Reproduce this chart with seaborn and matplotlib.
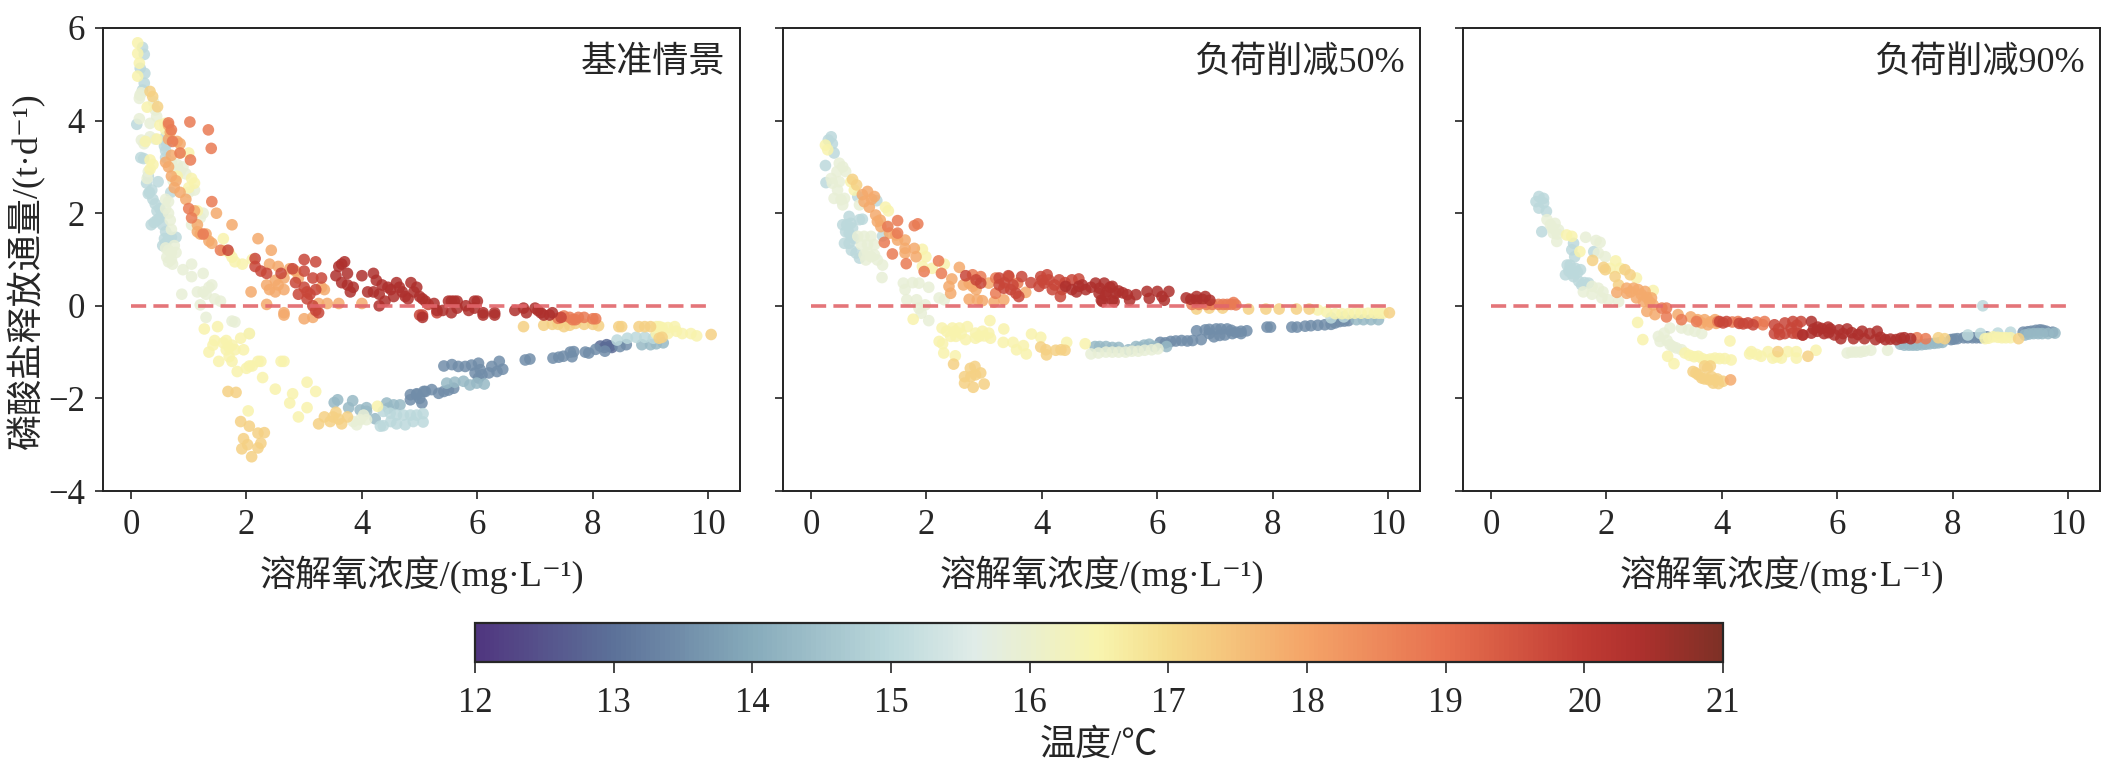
import pandas as pd
import matplotlib
matplotlib.use('Agg')
import matplotlib.pyplot as plt
from matplotlib.colors import LinearSegmentedColormap, Normalize
from matplotlib.cm import ScalarMappable
import seaborn as sns

sns.set_style('ticks')
fonts = ['Liberation Serif', 'Noto Sans CJK SC', 'DejaVu Sans']
plt.rcParams['font.family'] = fonts

panel_names = ['基准情景', '负荷削减50%', '负荷削减90%']
x_label = '溶解氧浓度/(mg·L⁻¹)'
y_label = '磷酸盐释放通量/(t·d⁻¹)'
cbar_label = '温度/℃'
x_ticks = [0, 2, 4, 6, 8, 10]
y_ticks = [-4, -2, 0, 2, 4, 6]
cbar_ticks = [12, 13, 14, 15, 16, 17, 18, 19, 20, 21]

temp_stops = [12, 13, 14, 15, 15.6, 16.5, 17, 18, 19, 20, 20.4, 21]
temp_colors = ['#50367f', '#5c7299', '#87abbb', '#bcd9dc', '#e0ece8', '#f8f4ae',
               '#f5dc8b', '#f4a468', '#e7704f', '#c03b33', '#ae302d', '#7e3026']

# panel 1, one list per temperature (dissolved oxygen, flux)
p1_130 = [(8.13, -.87), (8.24, -.84), (8.2, -.9), (8.3, -.87), (8.33, -.9)]
p1_135 = [(5.42, -1.3), (5.56, -1.27), (5.67, -1.31), (5.79, -1.31), (5.9, -1.28), (6.02, -1.24), (6.05, -1.38),
          (6.02, -1.56), (6.08, -1.49), (5.96, -1.45), (6.2, -1.45), (6.25, -1.31), (6.38, -1.2), (6.34, -1.42),
          (6.44, -1.37), (6.83, -1.17), (6.91, -1.15), (7.31, -1.13), (7.41, -1.11), (7.49, -1.09), (7.61, -1.0),
          (7.67, -.99), (7.64, -1.1), (7.87, -1.0), (7.93, -1.02), (8.05, -.94), (8.21, -.98), (8.47, -.88),
          (8.58, -.84), (4.84, -1.92), (4.95, -1.92), (4.84, -2.03), (5.04, -2.1), (5.07, -1.85), (5.21, -1.81),
          (5.33, -1.89), (5.42, -1.85), (5.5, -1.82), (5.59, -1.78), (4.95, -1.9), (5.1, -1.85), (5.0, -2.0)]
p1_143 = [(5.47, -1.67), (5.61, -1.65), (5.76, -1.63), (5.87, -1.71), (5.99, -1.67), (6.12, -1.69), (8.85, -.84),
          (9.0, -.84), (9.1, -.82), (9.22, -.8), (3.52, -2.09), (3.58, -2.03), (3.77, -2.2), (3.84, -2.05),
          (3.97, -2.25), (4.08, -2.2), (4.08, -2.28), (4.23, -2.44), (4.43, -2.1), (4.55, -2.14), (4.66, -2.14),
          (4.46, -2.21)]
p1_150 = [(.2, 5.58), (.23, 5.43), (.16, 5.13), (.24, 5.02), (.23, 4.81), (.2, 4.66), (.1, 3.92), (.17, 3.2), (.22, 3.18),
          (.6, 3.65), (.62, 3.5), (.6, 3.35), (.6, 3.2), (.58, 3.45), (.47, 2.68), (.32, 2.45), (.36, 2.5), (.3, 2.42),
          (.38, 2.3), (.42, 2.2), (.45, 2.05), (.5, 2.1), (.55, 2.0), (.35, 1.75), (.4, 1.8), (.45, 1.85), (.5, 1.9),
          (.55, 1.75), (.6, 1.6), (.58, 1.45), (.65, 1.45), (.7, 1.48), (.78, 1.48), (.55, 1.3), (.6, 1.35), (.69, 2.45),
          (.27, 2.65), (.3, 2.8), (8.42, -.74), (8.6, -.7), (8.75, -.68), (8.9, -.68), (9.05, -.7),
          (4.37, -2.28), (4.49, -2.32), (4.6, -2.36), (4.72, -2.36), (4.84, -2.36), (4.95, -2.36), (5.06, -2.33),
          (5.06, -2.51), (4.89, -2.5), (4.75, -2.57), (4.6, -2.55), (4.5, -2.5), (4.37, -2.59), (4.32, -2.6)]
p1_159 = [(.156, 4.55), (.145, 4.48), (.18, 4.6), (.39, 4.41), (.42, 4.23), (.445, 4.09), (.145, 4.04), (.33, 3.94),
          (.18, 3.58), (.225, 3.5), (.33, 3.65), (.42, 3.6), (.7, 3.1), (.8, 3.05), (.85, 2.9), (.9, 3.0), (.75, 2.95),
          (.95, 2.85), (.73, 2.7), (.3, 2.9), (.28, 2.75), (.6, 2.3), (.65, 2.25), (.6, 2.1), (.65, 2.0), (.68, 1.85),
          (.7, 1.65), (.6, 1.25), (.65, 1.2), (.7, 1.15), (.75, 1.3), (.62, 1.05), (.7, 1.0), (.78, 1.15), (.65, .95),
          (.72, .9), (.9, .78), (1.05, .9), (1.05, .63), (1.25, .7), (.88, .25), (1.15, .3), (1.25, .3), (1.3, .25),
          (1.4, .45), (1.35, .4), (1.45, .15), (1.55, .1), (1.2, .02), (1.05, 1.75), (1.25, 2.0), (1.2, 1.9), (1.1, 2.5),
          (1.0, 2.45), (1.3, -.25), (1.75, -.33), (1.8, -.35), (2.05, -.6), (3.85, -2.5), (3.97, -2.46), (4.08, -2.46),
          (3.91, -2.57), (4.03, -2.36)]
p1_165 = [(.116, 5.68), (.116, 5.45), (.145, 5.24), (.116, 4.96), (.28, 4.29), (.5, 3.9), (.59, 3.94), (.6, 3.8),
          (.25, 3.55), (.45, 3.6), (.33, 3.15), (.38, 3.05), (.33, 2.95), (.8, 2.8), (.85, 3.3), (1.0, 3.3), (1.05, 2.75),
          (1.1, 2.65), (1.0, 2.55), (1.15, 2.05), (1.6, 1.45), (1.6, 1.2), (1.7, 1.15), (1.75, 1.05), (1.8, .95), (1.93, .9),
          (2.1, 1.0), (1.27, -.5), (1.5, -.45), (1.45, -.75), (1.42, -.85), (1.35, -1.0), (1.6, -.8), (1.65, -.75),
          (1.7, -.9), (1.75, -.85), (1.8, -.95), (1.65, -.95), (1.7, -1.1), (1.9, -.7), (1.95, -.95), (2.05, -.6),
          (1.52, -1.2), (1.75, -1.2), (1.84, -1.42), (2.1, -1.3), (2.05, -1.3), (2.0, -1.35), (2.2, -1.2), (2.25, -1.2),
          (2.6, -1.2), (2.65, -1.2), (2.28, -1.55), (2.5, -1.8), (2.8, -1.9), (3.05, -1.65), (3.2, -1.85), (2.75, -2.1),
          (3.05, -2.2), (2.9, -2.4), (2.03, -2.27), (4.27, -2.17), (9.1, -.45), (9.15, -.45), (9.2, -.47), (9.3, -.47),
          (9.42, -.45), (9.45, -.55), (9.55, -.6), (9.7, -.6), (9.8, -.65), (9.1, -.6), (9.3, -.6)]
p1_172 = [(.33, 4.63), (.375, 4.52), (.46, 4.3), (3.25, -2.55), (3.35, -2.4), (3.5, -2.4), (3.55, -2.3), (3.6, -2.45),
          (3.65, -2.55), (3.45, -2.5), (3.75, -2.4), (1.68, -1.85), (1.82, -1.87), (1.9, -2.5), (2.05, -2.6), (1.95, -2.87),
          (2.02, -3.0), (1.92, -3.09), (2.09, -3.26), (2.2, -3.07), (2.25, -2.97), (2.2, -2.75), (2.31, -2.74),
          (6.8, -.45), (7.15, -.42), (7.3, -.4), (7.4, -.4), (7.5, -.45), (7.6, -.42), (7.7, -.38), (7.85, -.4), (8.0, -.4),
          (8.1, -.43), (8.45, -.45), (8.5, -.45), (8.8, -.45), (8.9, -.45), (9.0, -.45), (10.05, -.62), (9.15, -.7), (9.2, -.68)]
p1_179 = [(.65, 3.9), (.68, 3.75), (.65, 3.6), (.8, 3.55), (.85, 3.5), (.7, 3.25), (.6, 3.1), (.65, 3.0), (.7, 2.8), (.78, 2.7),
          (.75, 2.55), (.85, 2.45), (.95, 2.3), (1.1, 2.05), (1.15, 1.75), (1.48, 2.0), (1.75, 1.75), (1.15, 1.6), (1.2, 1.55),
          (1.3, 1.55), (1.35, 1.4), (1.4, 1.35), (2.2, 1.45), (2.43, 1.2), (2.4, .9), (2.55, .85), (2.35, .45), (2.4, .35),
          (2.5, .3), (2.65, .35), (2.5, .55), (2.75, .8), (2.85, .75), (2.9, .6), (3.3, .4), (3.35, .35), (2.65, -.15), (2.65, -.2),
          (3.0, -.28), (3.15, -.25), (2.35, .03), (3.4, .05), (3.6, .05), (4.0, .05), (2.08, .3), (2.65, .6), (2.55, .45), (3.25, .05)]
p1_188 = [(1.02, 3.97), (.85, 3.3), (.65, 3.95), (.7, 3.8), (.72, 3.55), (1.03, 3.15), (1.34, 3.8), (1.39, 3.4), (1.0, 2.1), (1.05, 1.9),
          (1.4, 2.25), (1.25, 1.55), (1.55, 1.2), (7.5, -.22), (7.7, -.3), (7.85, -.25), (8.0, -.28), (7.4, -.27), (7.6, -.25),
          (7.75, -.25), (8.05, -.28), (7.65, -.3)]
p1_198 = [(1.68, 1.2), (2.15, 1.02), (2.15, .85), (2.25, .75), (2.35, .7), (2.6, .7), (2.8, .8), (3.0, .75), (3.15, .6), (2.85, .5),
          (3.0, .4), (3.2, .35), (3.1, .25), (3.05, .15), (3.15, .0), (3.2, -.1), (3.25, -.15), (2.9, .25), (3.3, .6), (3.0, 1.0),
          (3.2, .95), (3.05, .3), (5.0, -.2), (5.05, -.2), (5.3, -.15), (5.15, .03), (7.45, -.25)]
p1_204 = [(3.65, .9), (3.7, .95), (3.6, .85), (3.75, .7), (4.0, .65), (4.2, .7), (4.25, .55), (3.55, .65), (3.65, .5), (3.75, .45),
          (3.85, .4), (3.8, .3), (4.1, .3), (4.2, .3), (4.3, .25), (4.35, .45), (4.45, .4), (4.5, .35), (4.55, .2), (4.6, .5),
          (4.65, .4), (4.7, .3), (4.75, .2), (4.8, .15), (4.85, .5), (4.9, .3), (4.95, .4), (5.0, .2), (5.05, .15), (5.1, .1),
          (5.25, .05), (4.4, .1), (4.3, .0), (5.5, .1), (5.55, .1), (5.65, .1), (5.6, .1), (5.8, .0), (5.95, .1), (6.0, .1),
          (6.1, -.15), (6.1, -.2), (6.3, -.15), (6.3, -.2), (6.65, -.1), (6.8, -.05), (6.85, -.15), (7.0, -.05), (7.05, -.1),
          (7.1, -.15), (7.15, -.2), (7.25, -.2), (7.3, -.15), (5.05, -.25), (5.3, -.1), (5.4, -.1), (5.55, -.15), (5.65, -.05),
          (5.85, -.1), (5.95, -.05)]

# panel 2
p2_135 = [(6.05, -.79), (6.23, -.77), (6.42, -.75), (6.61, -.75), (6.76, -.73), (6.68, -.54), (6.83, -.52), (7.02, -.5), (7.21, -.5),
          (7.36, -.57), (7.55, -.54), (6.98, -.67), (7.17, -.63), (7.96, -.46), (8.33, -.46), (8.56, -.44), (8.78, -.42), (9.01, -.4),
          (9.16, -.34), (9.31, -.32), (6.9, -.6), (7.3, -.6), (7.45, -.6), (6.14, -.8), (6.32, -.76), (6.52, -.76), (6.9, -.51), (7.1, -.5),
          (7.28, -.53), (7.45, -.55), (7.08, -.64), (7.9, -.46), (8.42, -.46), (8.66, -.43), (8.9, -.41), (9.08, -.37), (9.24, -.33)]
p2_143 = [(4.92, -.88), (5.11, -.88), (5.33, -.9), (5.63, -.88), (5.86, -.83), (6.16, -.88), (9.57, -.3), (9.83, -.3), (5.7, -.9), (5.5, -.95),
          (5.0, -.88), (5.22, -.9), (5.77, -.85), (5.95, -.88), (9.7, -.3), (9.45, -.3)]
p2_150 = [(.35, 3.65), (.3, 3.58), (.37, 3.5), (.4, 3.3), (.25, 3.03), (.26, 2.66), (.55, 1.75), (.66, 1.93), (.69, 1.78), (.72, 1.68),
          (.6, 1.6), (.66, 1.57), (.58, 1.35), (.66, 1.35), (.84, 1.86), (.89, 1.87), (.81, 2.36), (.78, 1.14), (.84, 1.03), (1.24, 1.51),
          (1.14, 2.27), (9.01, -.26), (9.23, -.24), (.75, 1.45), (.7, 1.2), (.62, 1.75), (.7, 1.5)]
p2_159 = [(.49, 3.08), (.55, 3.0), (.6, 2.9), (.35, 2.75), (.37, 2.65), (.49, 2.68), (.4, 2.32), (.52, 2.29), (.58, 2.32), (.55, 2.18),
          (.84, 2.18), (.81, 1.5), (.92, 1.5), (1.04, 1.5), (.87, 1.32), (.98, 1.32), (1.1, 1.32), (.92, 1.1), (1.04, 1.06), (1.15, .99),
          (1.24, .88), (.95, .99), (1.23, .61), (1.6, .49), (1.76, .5), (1.87, .49), (2.04, .4), (1.63, .35), (1.66, .13), (1.83, .13),
          (1.98, .02), (2.22, .17), (2.31, .13), (1.87, -.05), (1.91, -.16), (2.04, -.32), (4.85, -1.04), (5.11, -1.0), (5.33, -1.0),
          (5.56, -.98), (5.78, -.96), (6.01, -.93), (1.33, 1.72), (.45, 2.9), (.46, 2.5), (.98, 1.15), (1.1, 1.1), (4.98, -1.02), (5.22, -1.0),
          (5.45, -1.0), (5.67, -.98), (5.9, -.95)]
p2_165 = [(.25, 3.47), (.29, 3.37), (.69, 2.68), (.75, 2.5), (1.29, 2.13), (1.34, 2.05), (1.93, 1.22), (1.99, 1.06), (1.93, .85), (2.1, .81),
          (2.31, .9), (1.77, -.29), (2.27, -.48), (2.45, -.48), (2.57, -.48), (2.71, -.45), (2.42, -.66), (2.51, -.66), (2.68, -.73),
          (2.85, -.59), (2.97, -.55), (3.08, -.59), (3.11, -.7), (2.91, -.66), (3.1, -.32), (3.34, -.5), (3.33, -.79), (3.5, -.79),
          (3.56, -.95), (3.68, -.86), (3.73, -1.04), (3.82, -.61), (3.98, -.68), (4.43, -.79), (4.75, -.82), (2.22, -.77), (2.28, -.82),
          (2.3, -1.02), (2.5, -1.08), (2.35, -.55), (2.6, -.6), (8.78, -.09), (9.08, -.17), (9.31, -.17), (9.53, -.16), (9.76, -.16),
          (9.91, -.16), (8.93, -.13), (9.2, -.17), (9.42, -.16), (9.65, -.16), (9.84, -.16), (2.5, -.55), (2.85, -.7), (3.0, -.65)]
p2_172 = [(.72, 2.73), (.79, 2.61), (2.47, -1.26), (3.98, -.89), (4.07, -.95), (4.08, -1.06), (4.24, -.96), (4.33, -.95), (4.4, -.96),
          (2.76, -1.35), (2.84, -1.31), (2.94, -1.45), (2.66, -1.53), (2.77, -1.53), (2.85, -1.49), (2.66, -1.67), (2.81, -1.76),
          (3.0, -1.69), (10.02, -.15), (8.11, -.07), (8.63, -.07), (6.68, -.07), (6.9, -.05), (7.13, -.05), (7.58, -.07), (7.88, -.07), (8.41, -.07)]
p2_179 = [(.98, 2.47), (.89, 2.4), (1.1, 2.36), (.92, 2.25), (1.01, 2.13), (1.12, 1.96), (1.15, 1.82), (1.21, 1.71), (1.36, 1.57), (1.47, 1.53),
          (1.5, 1.42), (1.63, 1.42), (1.63, 1.24), (1.63, 1.14), (1.79, 1.24), (1.82, 1.06), (2.57, .83), (2.44, .58), (2.39, .42), (2.42, .27),
          (2.64, .45), (2.74, .49), (2.86, .35), (2.74, .14), (2.88, .13), (2.97, .11), (3.17, .08), (3.34, .13), (3.08, .49), (3.72, .29),
          (2.8, .42), (1.05, 2.3), (1.2, 1.85)]
p2_188 = [(1.5, 1.84), (1.79, 1.73), (1.85, 1.77), (1.27, 1.37), (1.41, 1.12), (1.65, .91), (1.96, .74), (2.21, .97), (2.26, .7), (1.33, 1.71),
          (1.5, 1.57), (2.8, .67), (2.94, .63), (3.2, .6), (3.58, .49), (3.2, .27), (3.43, .63), (6.6, .03), (6.85, .03), (7.06, .03), (7.21, .03),
          (7.36, .02), (7.32, .07), (6.72, .03), (6.95, .03), (7.14, .03), (7.28, .03)]
p2_198 = [(2.68, .65), (2.86, .56), (2.94, .49), (3.26, .45), (3.34, .38), (3.46, .35), (3.55, .27), (3.6, .2), (3.42, .65), (3.65, .63), (3.26, .6),
          (3.81, .5), (3.98, .63), (4.09, .67), (4.04, .49), (4.12, .56), (4.3, .56), (3.95, .42), (4.18, .35), (4.32, .2), (4.35, .35), (4.52, .56), (4.64, .58),
          (3.35, .5), (3.5, .45), (4.0, .55), (4.22, .45), (4.4, .5)]
p2_204 = [(4.41, .42), (4.52, .35), (4.64, .42), (4.76, .35), (4.7, .45), (4.93, .49), (5.08, .49), (5.22, .42), (4.99, .27), (5.13, .31), (5.28, .27),
          (5.05, .09), (5.25, .09), (5.18, .4), (5.33, .32), (5.48, .24), (5.03, .12), (5.22, .12), (5.52, .12), (5.82, .31), (6.0, .31), (6.2, .31),
          (5.86, .16), (6.12, .12), (6.5, .17), (6.68, .2), (6.83, .2), (6.91, .12), (6.68, .12), (5.63, .24), (4.85, .4), (5.0, .38), (5.1, .22),
          (5.4, .28), (4.6, .3), (6.08, .2), (6.58, .14), (6.78, .14)]

# panel 3
p3_135 = [(7.97, -.73), (8.08, -.71), (8.19, -.69), (8.34, -.69), (8.48, -.69), (8.59, -.67), (9.22, -.57), (9.36, -.55), (9.51, -.52), (9.62, -.55), (9.73, -.57),
          (8.02, -.72), (8.26, -.69), (8.41, -.69), (8.54, -.68), (9.3, -.56), (9.44, -.53), (9.56, -.53)]
p3_143 = [(7.09, -.83), (7.24, -.85), (7.38, -.85), (7.53, -.83), (7.68, -.81), (7.82, -.79), (9.25, -.63), (9.4, -.6), (9.55, -.6), (9.77, -.59),
          (7.16, -.85), (7.31, -.85), (7.46, -.84), (7.6, -.82), (7.75, -.8), (9.32, -.61), (9.48, -.6), (9.65, -.6)]
p3_150 = [(.83, 2.36), (.91, 2.32), (.78, 2.25), (.91, 2.22), (.83, 2.11), (.96, 2.04), (.88, 1.6), (1.32, .88), (1.37, .88), (1.46, .81), (1.29, .67),
          (1.43, .63), (1.52, .53), (1.57, .45), (1.69, .49), (1.43, 1.35), (1.4, 1.21), (1.45, 1.06), (1.78, 1.17), (1.55, .78), (8.26, -.63), (8.48, -.6),
          (8.78, -.59), (9.0, -.57), (8.52, .0), (1.35, .75), (1.4, .7), (1.5, .72), (1.62, .5)]
p3_159 = [(.97, 1.86), (1.11, 1.78), (1.06, 1.68), (1.08, 1.57), (1.14, 1.39), (1.17, 1.64), (1.64, 1.48), (1.82, 1.41), (1.89, 1.37), (1.86, 1.14), (1.98, 1.06),
          (1.75, .42), (1.86, .38), (1.92, .17), (2.03, .13), (2.21, .09), (2.9, -.66), (3.0, -.59), (3.1, -.48), (2.93, -.77), (3.1, -.84), (3.21, -.91), (3.3, -.95),
          (3.3, -.48), (3.42, -.52), (3.53, -.55), (3.65, -.6), (6.17, -1.02), (6.32, -1.0), (6.47, -.98), (6.58, -.96), (6.87, -.96), (1.6, .3), (1.75, .25),
          (1.03, 1.75), (1.15, 1.55), (1.94, .3), (3.05, -.75), (3.15, -.88), (6.25, -1.0), (6.4, -1.0)]
p3_165 = [(1.31, 1.53), (1.4, 1.5), (1.54, 1.17), (2.16, .97), (2.06, .81), (2.24, .81), (2.52, .6), (2.81, .33), (2.54, -.36), (2.63, -.73), (3.06, -1.09), (3.17, -1.25),
          (3.44, -1.07), (3.59, -1.09), (3.73, -1.17), (3.88, -1.13), (4.05, -1.14), (4.16, -1.17), (4.51, -.99), (4.48, -1.04), (4.68, -1.09), (4.8, -.99), (4.88, -1.13),
          (5.03, -1.13), (5.14, -.99), (5.29, -.99), (5.29, -1.13), (5.63, -.96), (4.14, -.76), (8.56, -.71), (8.7, -.67), (8.85, -.69), (9.0, -.69), (3.36, -1.02),
          (3.52, -1.1), (3.66, -1.14), (3.8, -1.15), (3.96, -1.14), (4.6, -1.05), (4.95, -1.1), (8.62, -.7), (8.78, -.68), (8.92, -.69)]
p3_172 = [(1.76, .98), (1.95, .83), (1.98, .78), (2.32, .78), (2.41, .67), (2.15, .63), (2.21, .45), (3.75, -1.35), (3.5, -1.42), (3.59, -1.49), (3.65, -1.56), (3.82, -1.53),
          (3.85, -1.67), (3.94, -1.68), (4.02, -1.63), (3.88, -1.6), (4.97, -.99), (5.49, -1.09), (7.75, -.69), (7.86, -.71), (9.14, -.71), (3.55, -1.45), (3.7, -1.58),
          (3.78, -1.6), (3.92, -1.58), (3.7, -1.3), (3.8, -1.3)]
p3_179 = [(2.35, .38), (2.47, .38), (2.55, .35), (2.67, .31), (2.52, .17), (2.64, .09), (2.78, .17), (2.81, .02), (2.7, -.12), (2.84, -.19), (2.35, .27), (2.18, .29),
          (3.24, -.19), (3.46, -.24), (3.7, -.3), (3.76, -.41), (3.88, -.3), (3.65, -.37), (4.15, -1.6), (2.42, .3), (2.6, .25), (2.7, .18), (2.75, .08),
          (3.8, -.35), (3.58, -.3), (3.9, -.38)]
p3_188 = [(3.04, -.05), (2.96, -.05), (3.04, -.24), (3.3, -.3), (3.56, -.34), (3.93, -.34), (4.28, -.34), (4.74, -.34), (4.71, -.41), (7.38, -.69), (7.53, -.71), (4.18, -.35), (4.6, -.35)]
p3_198 = [(3.96, -.34), (4.08, -.34), (4.37, -.39), (4.45, -.37), (4.54, -.41), (4.91, -.41), (5.09, -.37), (5.23, -.34), (5.37, -.34), (4.91, -.6), (5.09, -.6),
          (5.23, -.59), (5.4, -.63), (5.2, -.48), (4.02, -.37), (4.3, -.38), (4.98, -.5), (5.0, -.62), (5.31, -.6), (5.3, -.42)]
p3_204 = [(5.55, -.34), (5.59, -.5), (5.73, -.49), (5.88, -.5), (6.03, -.52), (6.17, -.5), (6.43, -.55), (6.69, -.55), (5.55, -.59), (5.77, -.6), (5.95, -.63), (6.06, -.71),
          (6.28, -.71), (6.47, -.71), (6.66, -.73), (6.83, -.73), (7.02, -.73), (7.16, -.69), (7.27, -.71), (5.4, -.63), (5.66, -.46), (5.84, -.46), (5.65, -.55), (5.85, -.58),
          (6.1, -.6), (6.25, -.58), (6.36, -.62), (6.56, -.6), (6.75, -.68), (6.92, -.72), (7.1, -.7)]

panels = [
    {12.9: p1_130, 13.5: p1_135, 14.3: p1_143, 15.0: p1_150, 15.9: p1_159, 16.5: p1_165, 17.2: p1_172, 17.9: p1_179, 18.8: p1_188, 19.8: p1_198, 20.4: p1_204},
    {13.5: p2_135, 14.3: p2_143, 15.0: p2_150, 15.9: p2_159, 16.5: p2_165, 17.2: p2_172, 17.9: p2_179, 18.8: p2_188, 19.8: p2_198, 20.4: p2_204},
    {13.5: p3_135, 14.3: p3_143, 15.0: p3_150, 15.9: p3_159, 16.5: p3_165, 17.2: p3_172, 17.9: p3_179, 18.8: p3_188, 19.8: p3_198, 20.4: p3_204},
]

norm = Normalize(12, 21)
cmap = LinearSegmentedColormap.from_list(
    'temp', [(norm(t), c) for t, c in zip(temp_stops, temp_colors)])

W, H = 2106, 772
fig = plt.figure(figsize=(W / 100, H / 100), dpi=100)
lefts = [103, 783, 1463]
axes = []
for i, left in enumerate(lefts):
    ax = fig.add_axes([left / W, 1 - 491 / H, 637 / W, 463 / H])
    rows = [(x, y, t) for t, pts in panels[i].items() for x, y in pts]
    df = pd.DataFrame(rows, columns=['do', 'flux', 'temp'])
    sns.scatterplot(data=df, x='do', y='flux', hue='temp', palette=cmap, hue_norm=(12, 21),
                    s=70, alpha=0.85, linewidth=0, legend=False, ax=ax)
    ax.plot([0, 10], [0, 0], color='#e2666b', lw=2.6, ls=(0, (4.2, 2.0)), alpha=0.9)
    ax.set_xlim(-0.485, 10.55)
    ax.set_ylim(-4, 6)
    ax.set_xticks(x_ticks)
    ax.set_yticks(y_ticks)
    ax.tick_params(length=6, width=1.2, labelsize=25, color='#222222', pad=7)
    if i > 0:
        ax.set_yticklabels([])
    for s in ax.spines.values():
        s.set_visible(True)
        s.set_linewidth(1.4)
        s.set_color('#222222')
    ax.set_xlabel(x_label, fontsize=26, labelpad=10)
    ax.set_ylabel('')
    ax.text(0.976, 0.924, panel_names[i], transform=ax.transAxes, ha='right', va='center', fontsize=26)
    axes.append(ax)

axes[0].set_ylabel(y_label, fontsize=26)
axes[0].yaxis.set_label_coords(-0.091, 0.475)

cax = fig.add_axes([475 / W, 1 - 662 / H, 1248 / W, 39 / H])
cb = fig.colorbar(ScalarMappable(norm=norm, cmap=cmap), cax=cax, orientation='horizontal', ticks=cbar_ticks)
cb.ax.tick_params(length=8, width=1.2, labelsize=25, pad=10)
cb.outline.set_linewidth(1.6)
cb.set_label(cbar_label, fontsize=26, labelpad=7)

plt.savefig('out.png', dpi=100)
